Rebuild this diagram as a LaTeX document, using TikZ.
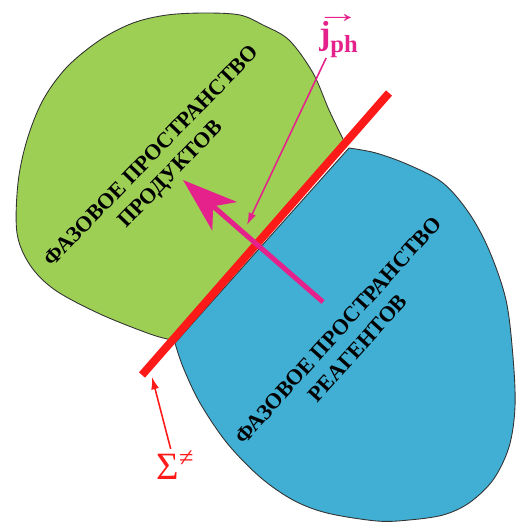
\documentclass[tikz,border=0pt]{standalone}
\usepackage{fontspec}
\setmainfont{Liberation Serif}
\usetikzlibrary{arrows.meta}
\definecolor{prodgreen}{HTML}{9DCF55}
\definecolor{reagblue}{HTML}{40AFD3}
\definecolor{fluxpink}{HTML}{E5228C}
\definecolor{surfred}{HTML}{FF1A1A}
\tikzset{
  space/.style={draw=black!80,line width=0.5pt},
  spacetext/.style={font=\fontsize{12.5}{15}\selectfont\bfseries,align=center,inner sep=0pt},
  thinarrow/.style={line width=0.9pt,-{Latex[length=7pt,width=4.5pt]}}
}
\begin{document}
\begin{tikzpicture}[x=0.02cm,y=-0.02cm]
\useasboundingbox (0,0) rectangle (516,522);
% products phase space
\draw[space,fill=prodgreen] plot[smooth,tension=0.55] coordinates {(172,340) (150,334) (100,314) (55,290) (30,265) (17,233) (18,183) (27,140) (43,100) (67,67) (100,40) (133,23) (167,15) (205,13) (240,15) (263,25) (289,40) (313,73) (329,110) (344,141)} -- cycle;
% reagents phase space
\draw[space,fill=reagblue] plot[smooth,tension=0.55] coordinates {(349,148) (376,153) (409,165) (443,183) (469,213) (489,250) (506,300) (513,357) (515,407) (509,447) (493,480) (469,503) (443,515) (409,520) (377,521) (327,513) (293,500) (260,477) (227,443) (200,403) (183,367) (175,343)} -- cycle;
% texts
\node[spacetext,rotate=46] (prod) at (162,166) {ФАЗОВОЕ ПРОСТРАНСТВО\\ПРОДУКТОВ};
\node[spacetext,rotate=48] (reag) at (348,339) {ФАЗОВОЕ ПРОСТРАНСТВО\\РЕАГЕНТОВ};
% dividing surface
\coordinate (sbot) at (142,375);
\coordinate (stop) at (389,93);
\draw[surfred,line width=0.16cm] (sbot) -- (stop);
% flux
\coordinate (ftail) at (323,302);
\coordinate (fhead) at (183,180);
\draw[fluxpink,line width=0.1cm,-{Stealth[length=1.1cm,width=0.75cm,inset=0.3cm]}] (ftail) -- (fhead);
% labels
\node[fluxpink,font=\bfseries,inner sep=0pt,anchor=base west] (jph) at (319,44)
  {\makebox[0pt][l]{\hspace{-2pt}\raisebox{12pt}{\scalebox{2.1}[1.3]{\fontsize{12}{12}\selectfont →}}}\fontsize{19}{19}\selectfont j\raisebox{-0.55ex}{\fontsize{14}{14}\selectfont ph}};
\coordinate (jtip) at (247,225);
\draw[fluxpink,thinarrow] (jph.240) -- (jtip);
\node[surfred,font=\fontsize{22}{22}\selectfont,inner sep=1pt] (sigma) at (175,465) {Σ\raisebox{0.7ex}{\fontsize{15}{15}\selectfont ≠}};
\coordinate (stip) at (152,377);
\draw[surfred,thinarrow] (sigma.105) -- (stip);
\end{tikzpicture}
\end{document}
